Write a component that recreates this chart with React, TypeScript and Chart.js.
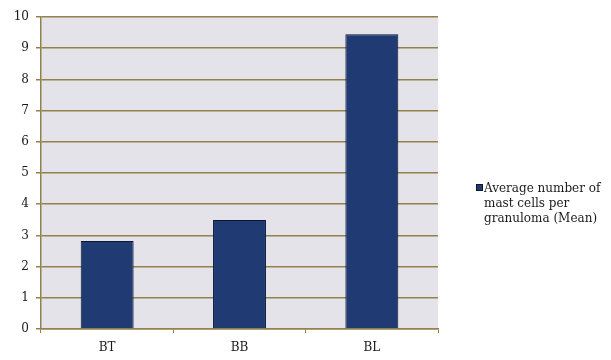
import { useEffect, useRef } from "react";
import { Chart, registerables } from "chart.js";

Chart.register(...registerables);

const categories = ["BT", "BB", "BL"];
const meanValues = [2.82, 3.49, 9.45];
const seriesLabelLines = ["Average number of", "mast cells per", "granuloma (Mean)"];
const yMin = 0;
const yMax = 10;
const yStep = 1;

const BAR_COLOR = "#203a74";
const BAR_BORDER = "#0b1630";
const GRID_COLOR = "#94814a";
const PLOT_BG = "#e3e3e9";
const TEXT_COLOR = "#1a1a1a";
const FONT_FAMILY = "'DejaVu Serif', 'Liberation Serif', serif";

const plotBackground = {
  id: "plotBackground",
  beforeDraw(chart: any) {
    const { ctx, chartArea } = chart;
    if (!chartArea) return;
    ctx.save();
    ctx.fillStyle = PLOT_BG;
    ctx.fillRect(chartArea.left, chartArea.top, chartArea.right - chartArea.left, chartArea.bottom - chartArea.top);
    ctx.restore();
  },
};

const sideLegend = {
  id: "sideLegend",
  afterDraw(chart: any) {
    const { ctx, chartArea } = chart;
    if (!chartArea) return;
    const x0 = chartArea.right + 38;
    const midY = (chartArea.top + chartArea.bottom) / 2;
    const lineH = 15;
    const firstBaselineY = midY + 19;
    ctx.save();
    ctx.fillStyle = BAR_COLOR;
    ctx.strokeStyle = BAR_BORDER;
    ctx.lineWidth = 1;
    ctx.fillRect(x0, firstBaselineY - 8, 7, 7);
    ctx.strokeRect(x0 + 0.5, firstBaselineY - 7.5, 6, 6);
    ctx.fillStyle = TEXT_COLOR;
    ctx.font = `12px ${FONT_FAMILY}`;
    ctx.textAlign = "left";
    ctx.textBaseline = "alphabetic";
    seriesLabelLines.forEach((line, i) => {
      ctx.fillText(line, x0 + 8, firstBaselineY + i * lineH);
    });
    ctx.restore();
  },
};

export default function App() {
  const canvasRef = useRef<HTMLCanvasElement | null>(null);

  useEffect(() => {
    const canvas = canvasRef.current;
    if (!canvas) return;
    const chart = new Chart(canvas, {
      type: "bar",
      data: {
        labels: categories,
        datasets: [
          {
            label: seriesLabelLines.join(" "),
            data: meanValues,
            backgroundColor: BAR_COLOR,
            borderColor: BAR_BORDER,
            borderWidth: 1,
            categoryPercentage: 0.8,
            barPercentage: 0.5,
          },
        ],
      },
      options: {
        responsive: false,
        animation: false,
        layout: { padding: { top: 17, right: 173, left: 0, bottom: 0 } },
        plugins: {
          legend: { display: false },
          tooltip: { enabled: false },
        },
        scales: {
          x: {
            type: "category",
            offset: true,
            grid: {
              offset: true,
              drawOnChartArea: false,
              drawTicks: true,
              tickLength: 4,
              color: GRID_COLOR,
              lineWidth: 1,
            },
            border: { display: true, color: GRID_COLOR, width: 1.5 },
            ticks: {
              color: TEXT_COLOR,
              font: { family: FONT_FAMILY, size: 12 },
              padding: 8,
            },
            afterFit(scale: any) {
              scale.height = 31;
            },
          },
          y: {
            min: yMin,
            max: yMax,
            ticks: {
              stepSize: yStep,
              color: TEXT_COLOR,
              font: { family: FONT_FAMILY, size: 12 },
              padding: 7,
            },
            grid: {
              color: GRID_COLOR,
              lineWidth: 1.5,
              drawTicks: true,
              tickLength: 5,
            },
            border: { display: true, color: GRID_COLOR, width: 1.5 },
            afterFit(scale: any) {
              scale.width = 41;
            },
          },
        },
      },
      plugins: [plotBackground, sideLegend],
    });
    return () => chart.destroy();
  }, []);

  return (
    <div style={{ position: "absolute", left: 0, top: 0, width: 611, height: 360, background: "#ffffff" }}>
      <canvas ref={canvasRef} width={611} height={360} style={{ display: "block" }} />
    </div>
  );
}
